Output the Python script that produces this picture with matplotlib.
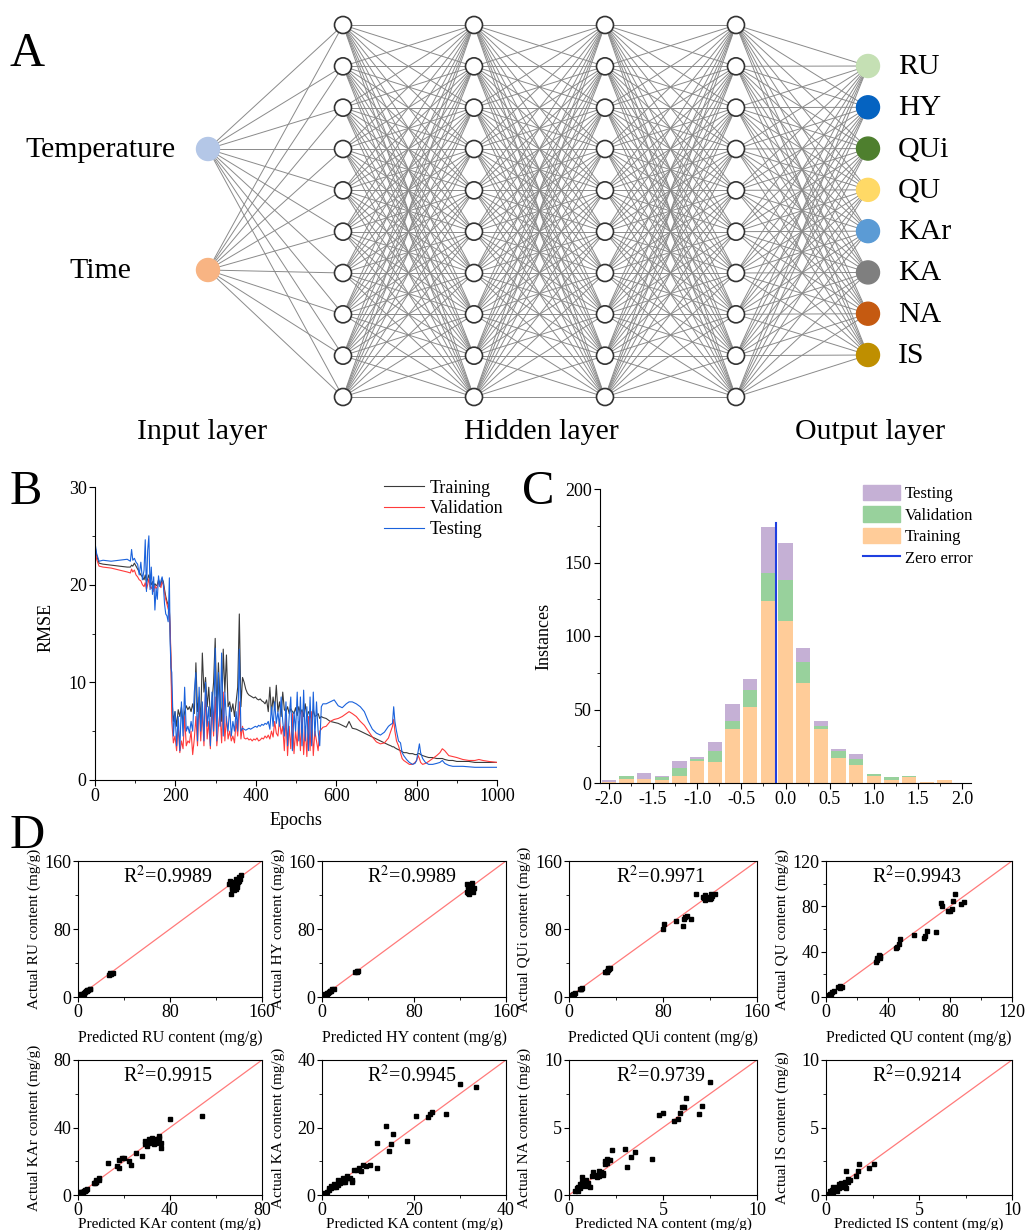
import numpy as np
import matplotlib
matplotlib.use('Agg')
import matplotlib.pyplot as plt
from matplotlib.patches import Circle, Patch
from matplotlib.lines import Line2D
from matplotlib.ticker import MultipleLocator

plt.rcParams['font.family'] = ['Liberation Serif', 'DejaVu Serif']
plt.rcParams['mathtext.fontset'] = 'stix'

# ------------------------------------------------------------------
# Panel A - network
input_labels = ['Temperature', 'Time']
input_colors = ['#b4c7e7', '#f8b483']
output_labels = ['RU', 'HY', 'QUi', 'QU', 'KAr', 'KA', 'NA', 'IS']
output_colors = ['#c5e0b4', '#0563c1', '#4e7f2e', '#ffd966', '#5b9bd5', '#7f7f7f', '#c55a11', '#bf8f00']
n_hidden_layers = 4
n_hidden_units = 10

# ------------------------------------------------------------------
# Panel B - RMSE vs epochs
epochs_a = [0, 4, 10, 20, 40, 60, 80, 88, 91, 94, 98, 102, 106, 110, 114, 118, 122, 125, 128, 131,
            134, 137, 140, 143, 146, 149, 152, 155, 158, 161, 164, 167, 170, 173, 176, 179, 182, 185, 187, 189]
epochs_b = list(range(191, 570, 4))
epochs_c = [575, 585, 595, 605, 615, 625, 632, 640, 650, 660, 670, 680, 690, 700, 710, 720, 730, 736, 740, 743,
            746, 750, 755, 760, 764, 768, 775, 782, 790, 796, 800, 804, 807, 810, 815, 822, 830, 840, 850, 858,
            864, 870, 880, 890, 900, 915, 930, 945, 955, 965, 980, 1000]
epochs = epochs_a + epochs_b + epochs_c

rmse_train = [
    24.0, 23.0, 22.2, 22.1, 22.0, 21.9, 21.8, 21.8, 22.0, 21.9, 22.2, 21.9, 21.6, 21.3, 21.0, 20.8, 20.5, 21.0, 20.2, 20.6,
    21.0, 20.4, 20.0, 20.3, 19.8, 20.1, 19.9, 20.0, 20.5, 20.2, 20.0, 20.6, 20.3, 19.5, 18.8, 18.3, 17.9, 17.5, 15.0, 12.0,
    8.5, 6.0, 7.0, 5.5, 7.2, 6.5, 7.5, 5.8, 7.0, 7.6,
    7.2, 7.5, 7.0, 7.8, 6.8, 12.0, 7.0, 8.5, 6.0, 13.0,
    9.0, 10.5, 7.5, 9.5, 6.5, 8.0, 10.0, 14.5, 7.0, 12.0,
    8.0, 6.0, 13.4, 9.0, 12.8, 7.5, 8.0, 7.0, 7.8, 6.5,
    8.0, 9.5, 17.0, 7.5, 10.5, 10.0, 9.3, 8.9, 8.7, 8.6,
    8.5, 8.4, 8.5, 8.3, 8.2, 8.3, 8.1, 8.0, 7.8, 8.2,
    7.0, 9.5, 6.8, 8.5, 7.2, 9.7, 7.0, 8.0, 6.5, 9.0,
    7.2, 7.0, 7.5, 6.8, 7.3, 7.0, 6.8, 7.4, 6.6, 7.5,
    6.8, 7.2, 6.5, 7.8, 6.4, 7.0, 6.7, 6.2, 7.2, 6.5,
    6.6, 6.8, 6.3, 6.5, 6.4,
    6.3, 6.0, 5.9, 5.8, 5.6, 5.4, 6.0, 5.3, 5.2, 5.0, 4.8, 4.6, 4.4, 4.2, 4.0, 3.8, 3.6, 3.5, 3.4, 3.4,
    3.3, 3.2, 3.1, 3.0, 2.9, 2.8, 2.8, 2.7, 2.7, 2.6, 2.6, 2.7, 2.7, 2.6, 2.5, 2.4, 2.3, 2.3, 2.2, 2.2,
    2.2, 2.1, 2.0, 2.0, 1.9, 1.9, 1.9, 1.8, 1.8, 1.8, 1.8, 1.8]

rmse_val = [
    23.8, 22.6, 21.9, 21.8, 21.7, 21.5, 21.3, 21.2, 21.6, 21.3, 21.5, 21.0, 20.8, 20.5, 20.4, 20.0, 19.8, 20.2, 19.5, 20.0,
    20.6, 19.8, 19.6, 19.9, 19.3, 19.9, 19.6, 19.8, 20.2, 20.0, 19.7, 20.3, 20.0, 19.2, 18.5, 18.0, 17.5, 17.3, 15.5, 12.5,
    6.0, 3.8, 4.5, 3.0, 5.5, 2.8, 4.0, 3.2, 6.5, 3.5,
    4.0, 3.8, 5.0, 2.6, 4.2, 6.5, 3.5, 8.0, 4.0, 7.0,
    3.5, 9.0, 4.2, 6.0, 3.2, 7.5, 4.5, 8.5, 3.5, 5.5,
    7.0, 3.8, 9.0, 4.0, 6.5, 4.2, 5.0, 4.0, 4.5, 3.8,
    6.0, 4.5, 8.0, 4.2, 5.5, 4.3, 4.2, 4.3, 4.1, 4.2,
    4.0, 4.2, 4.1, 4.3, 4.0, 4.1, 4.3, 4.2, 4.5, 4.3,
    4.6, 4.2, 5.0, 4.4, 6.0, 4.8, 4.5, 6.2, 4.7, 5.5,
    3.0, 6.5, 2.5, 5.5, 3.2, 6.8, 2.7, 5.0, 3.5, 6.0,
    3.0, 7.0, 2.6, 5.5, 2.4, 6.5, 3.0, 7.0, 2.5, 5.0,
    4.0, 3.0, 5.0, 5.2, 5.4,
    5.5, 6.0, 6.2, 6.3, 6.5, 6.8, 7.0, 6.8, 6.5, 6.0, 5.6, 5.0, 4.4, 3.9, 3.7, 3.8, 4.3, 5.0, 5.5, 6.2,
    5.0, 4.0, 3.5, 2.8, 2.2, 2.0, 1.8, 1.6, 1.6, 1.8, 2.0, 2.5, 2.2, 1.8, 1.6, 1.7, 1.9, 2.2, 2.5, 2.8,
    3.2, 3.0, 2.5, 2.4, 2.3, 2.1, 2.0, 2.0, 2.1, 2.0, 1.9, 1.8]

rmse_test = [
    24.3, 23.2, 22.4, 22.5, 22.4, 22.5, 22.6, 22.4, 23.6, 22.5, 22.7, 22.3, 22.1, 21.0, 22.3, 20.5, 21.5, 24.6, 19.3, 23.5,
    25.0, 19.5, 21.8, 19.0, 20.8, 17.4, 19.6, 18.5, 20.9, 19.8, 20.4, 20.8, 20.0, 18.0, 17.0, 16.8, 16.2, 20.7, 14.0, 11.5,
    11.0, 4.5, 7.0, 3.5, 6.5, 3.0, 8.0, 4.5, 9.5, 5.0,
    5.5, 4.8, 6.0, 5.0, 9.0, 11.0, 4.0, 9.5, 5.0, 8.0,
    4.0, 10.0, 5.5, 7.5, 3.5, 9.0, 5.0, 13.5, 4.0, 11.0,
    5.5, 13.0, 4.5, 9.0, 6.0, 5.0, 7.5, 4.5, 6.0, 5.0,
    7.0, 5.0, 13.4, 5.0, 5.3, 5.2, 5.1, 5.2, 5.3, 5.2,
    5.3, 5.4, 5.5, 5.4, 5.6, 5.5, 5.7, 5.6, 5.8, 5.7,
    6.0, 5.2, 7.5, 5.5, 8.0, 5.8, 7.0, 5.5, 8.5, 6.0,
    4.5, 8.0, 3.5, 6.5, 8.5, 3.0, 7.0, 5.0, 9.0, 4.0,
    8.5, 3.5, 9.2, 4.0, 7.5, 3.0, 8.5, 3.5, 9.0, 4.5,
    8.0, 5.0, 3.5, 7.5, 7.8,
    7.8, 8.0, 8.2, 7.6, 7.4, 7.8, 8.0, 8.0, 7.8, 7.5, 7.0, 6.0, 5.2, 4.8, 4.6, 4.9, 5.5, 5.7, 5.8, 7.5,
    6.0, 5.0, 4.0, 3.8, 2.8, 2.5, 2.1, 1.8, 1.6, 1.7, 2.0, 3.0, 3.7, 2.8, 2.2, 1.8, 1.6, 1.6, 1.7, 1.8,
    2.0, 1.7, 1.5, 1.4, 1.4, 1.4, 1.35, 1.3, 1.3, 1.3, 1.3, 1.3]

# ------------------------------------------------------------------
# Panel C - error histogram
bin_centers = [-2.0, -1.8, -1.6, -1.4, -1.2, -1.0, -0.8, -0.6, -0.4, -0.2,
               0.0, 0.2, 0.4, 0.6, 0.8, 1.0, 1.2, 1.4, 1.6, 1.8]
hist_train = [1, 3, 3, 2, 5, 15, 14, 37, 52, 124, 110, 68, 37, 17, 12, 5, 2, 4, 1, 2]
hist_val = [0, 2, 0, 2, 5, 1, 8, 5, 11, 19, 28, 14, 2, 5, 4, 1, 2, 1, 0, 0]
hist_test = [1, 0, 4, 1, 5, 2, 6, 12, 8, 31, 25, 10, 3, 1, 4, 0, 0, 0, 0, 0]
zero_error = -0.11

# ------------------------------------------------------------------
# Panel D - predicted vs actual
compounds = ['RU', 'HY', 'QUi', 'QU', 'KAr', 'KA', 'NA', 'IS']
r2_values = ['0.9989', '0.9989', '0.9971', '0.9943', '0.9915', '0.9945', '0.9739', '0.9214']
axis_max = [160, 160, 160, 120, 80, 40, 10, 10]
major_step = [80, 80, 80, 40, 40, 20, 5, 5]

pred_RU = [1, 2, 3, 4, 5, 6, 7, 8, 9, 10, 3, 5, 8, 10, 27, 28, 29, 30, 28,
           131, 132, 134, 133, 135, 136, 137, 138, 139, 140, 141, 142, 137, 135, 140, 136, 138, 134]
act_RU = [1, 2, 2.5, 4, 5, 6, 6.5, 7, 8.5, 9, 3.5, 4, 8, 10, 26, 27, 27.5, 28, 28,
          133, 136, 130, 121, 128, 131, 127, 133, 135, 141, 139, 143, 139, 135, 136, 126, 129, 127]

pred_HY = [1, 2, 3, 4, 5, 6, 7, 8, 9, 10, 4, 7, 29, 30, 30, 31,
           126, 127, 128, 129, 127, 128, 130, 131, 126, 129, 130, 128, 132, 127, 131]
act_HY = [1, 2, 3, 3.5, 5, 6, 7, 7.5, 9, 10, 4.5, 6.5, 30, 30.5, 29.5, 31,
          133, 131, 128, 126, 122, 121, 125, 127, 124, 130, 134, 124, 128, 127, 123]

pred_QUi = [1, 2, 3, 4, 5, 3, 9, 10, 11, 10, 31, 32, 33, 34, 33, 35, 32,
            80, 81, 91, 97, 98, 99, 100, 104, 108, 114, 115, 116, 119, 120, 121, 122, 124, 116, 121]
act_QUi = [1, 2, 2.5, 4, 5, 3.5, 9, 10, 11, 9.5, 30, 31, 32, 33, 34, 34, 29,
           80, 86, 89, 83, 92, 94, 95, 92, 121, 118, 116, 120, 118, 115, 117, 119, 121, 114, 121]

pred_QU = [1, 2, 3, 4, 5, 2.5, 8, 9, 9, 10, 32, 33, 34, 34, 35, 33, 35,
           45, 46, 47, 48, 57, 63, 64, 65, 71, 74, 75, 79, 80, 81, 82, 83, 87, 89]
act_QU = [1, 2, 2.5, 4, 5, 3, 9, 10, 8, 9, 31, 33, 35, 37, 36, 34, 34,
          43, 44, 47, 51, 55, 52, 54, 58, 57, 83, 80, 76, 76, 78, 85, 91, 82, 84]

pred_KAr = [0.5, 1, 1.5, 2, 2.5, 3, 3.5, 4, 1, 2, 3, 7, 8, 8, 9, 7.5, 9, 8,
            13, 17, 18, 18, 19, 20, 22, 23, 25, 28, 29, 29, 30, 31, 32, 32, 33, 34, 35, 35, 36, 36, 34, 31, 40, 54]
act_KAr = [0.5, 1, 1.5, 2, 2.5, 3, 3, 3.5, 2, 1.5, 2.5, 7, 8, 9, 10, 7, 9, 7.5,
           19, 17, 21, 16, 22, 22, 20, 18, 25, 23, 32, 30, 29, 31, 34, 32, 30, 33, 35, 34, 31, 28, 31, 33, 45, 47]

pred_KA = [0.5, 1, 1.5, 2, 2.5, 3, 3.5, 4, 4.5, 5, 5.5, 6, 6.5, 7, 7.5, 8, 8.5, 9, 9.5, 10.5,
           2, 3, 4, 5, 6.5, 1.5, 2.5, 3.5, 4.5, 5.5,
           12, 12, 14, 14.5, 15, 15.5, 18.5, 20.5, 23, 23.5, 24, 27, 30, 33.5]
act_KA = [0.5, 1, 1.5, 2, 2.5, 3, 3, 4, 4, 4.5, 5, 5, 4.5, 7.5, 7.5, 8, 7, 9, 8.5, 9,
          2.8, 2.5, 3.5, 4, 3.8, 2, 3.2, 4.5, 5, 5.5,
          15.5, 8, 20.5, 13, 15, 18, 16, 23.5, 23, 24, 24.5, 24, 33, 32]

pred_NA = [0.3, 0.4, 0.5, 0.6, 0.7, 0.7, 0.8, 0.9, 1.0, 1.1, 1.2, 1.3, 1.4, 1.5, 1.6, 1.7, 1.8, 1.9, 2.0, 2.1,
           2.2, 2.3, 0.5, 0.6, 0.9, 1.0, 1.6, 1.8, 1.9, 2.0,
           3.0, 3.1, 3.3, 3.5, 4.4, 4.8, 5.0, 5.6, 5.8, 5.9, 6.0, 6.1, 6.2, 6.9, 7.1, 7.5]
act_NA = [0.3, 0.5, 0.6, 0.8, 1.0, 1.3, 0.7, 0.8, 0.9, 0.6, 1.4, 1.7, 1.5, 1.3, 1.4, 1.7, 1.6, 2.5, 2.4, 2.6,
          2.6, 3.3, 0.3, 0.5, 1.1, 0.7, 1.8, 1.5, 2.3, 2.7,
          3.4, 2.1, 2.8, 3.2, 2.7, 5.9, 6.1, 5.5, 5.6, 6.1, 6.5, 6.5, 7.2, 6.0, 6.6, 8.4]

pred_IS = [0.1, 0.2, 0.3, 0.3, 0.4, 0.5, 0.5, 0.6, 0.7, 0.7, 0.8, 0.9, 1.0, 1.0, 1.1, 1.1, 1.2, 1.2, 1.3,
           1.6, 1.7, 1.8, 2.3, 2.6, 0.2, 0.4, 0.6, 0.8, 0.9, 0.4]
act_IS = [0.1, 0.3, 0.2, 0.4, 0.3, 0.5, 0.4, 0.6, 0.5, 0.8, 0.7, 0.8, 0.9, 1.0, 0.5, 1.8, 1.2, 1.0, 1.1,
          1.4, 1.8, 2.3, 2.0, 2.3, 0.1, 0.6, 0.3, 0.9, 0.6, 0.2]

pred_data = [pred_RU, pred_HY, pred_QUi, pred_QU, pred_KAr, pred_KA, pred_NA, pred_IS]
act_data = [act_RU, act_HY, act_QUi, act_QU, act_KAr, act_KA, act_NA, act_IS]

# ------------------------------------------------------------------
W, H = 1028, 1230
fig = plt.figure(figsize=(W / 100, H / 100), dpi=100)


def px_axes(left, top, right, bottom):
    # axes placed by pixel box (origin top-left)
    return fig.add_axes([left / W, 1 - bottom / H, (right - left) / W, (bottom - top) / H])


# ---------------- A ----------------
axA = px_axes(0, 0, W, 450)
axA.set_xlim(0, W)
axA.set_ylim(450, 0)
axA.axis('off')

in_x, in_y = 208, [149, 270]
hid_x = [343, 474, 605, 736][:n_hidden_layers]
hid_y = np.linspace(25, 397, n_hidden_units)
out_x, out_y = 868, np.linspace(66, 355, len(output_labels))

layers = [(in_x, in_y)] + [(x, hid_y) for x in hid_x] + [(out_x, out_y)]
for (x0, ys0), (x1, ys1) in zip(layers[:-1], layers[1:]):
    for y0 in ys0:
        for y1 in ys1:
            axA.plot([x0, x1], [y0, y1], color='#8a8a8a', lw=0.7, zorder=1)

for y, c, lab in zip(in_y, input_colors, input_labels):
    axA.add_patch(Circle((in_x, y), 11.5, color=c, zorder=3))
    axA.text(100, y + 1, lab, fontsize=21.5, ha='center', va='center')
for x in hid_x:
    for y in hid_y:
        axA.add_patch(Circle((x, y), 8.5, facecolor='white', edgecolor='#333333', lw=1.2, zorder=3))
for y, c, lab in zip(out_y, output_colors, output_labels):
    axA.add_patch(Circle((out_x, y), 11.5, color=c, zorder=3))
    axA.text(898, y + 1, lab, fontsize=21.5, ha='left', va='center')

axA.text(202, 432, 'Input layer', fontsize=21.5, ha='center', va='center')
axA.text(541, 432, 'Hidden layer', fontsize=21.5, ha='center', va='center')
axA.text(870, 432, 'Output layer', fontsize=21.5, ha='center', va='center')

fig.text(10 / W, 1 - 66 / H, 'A', fontsize=35, ha='left', va='baseline')
fig.text(10 / W, 1 - 504 / H, 'B', fontsize=35, ha='left', va='baseline')
fig.text(522 / W, 1 - 504 / H, 'C', fontsize=35, ha='left', va='baseline')
fig.text(10 / W, 1 - 848 / H, 'D', fontsize=35, ha='left', va='baseline')

# ---------------- B ----------------
axB = px_axes(95, 487, 497, 780)
axB.plot(epochs, rmse_train, color='#3a3a3a', lw=0.8, label='Training')
axB.plot(epochs, rmse_val, color='#ff3b3b', lw=0.8, label='Validation')
axB.plot(epochs, rmse_test, color='#1a62dc', lw=0.8, label='Testing')
axB.set_xlim(0, 1000)
axB.set_ylim(0, 30)
axB.xaxis.set_major_locator(MultipleLocator(200))
axB.xaxis.set_minor_locator(MultipleLocator(100))
axB.yaxis.set_major_locator(MultipleLocator(10))
axB.yaxis.set_minor_locator(MultipleLocator(5))
axB.spines[['top', 'right']].set_visible(False)
axB.tick_params(which='major', direction='out', length=4, labelsize=13, pad=2)
axB.tick_params(which='minor', direction='out', length=2.5)
axB.set_ylabel('RMSE', fontsize=13)
axB.set_xlabel('Epochs', fontsize=13)
axB.yaxis.set_label_coords(-0.1, 0.52)
axB.xaxis.set_label_coords(0.5, -0.11)
axB.legend(loc='upper left', bbox_to_anchor=(0.72, 1.025), frameon=False, fontsize=13,
           handlelength=2.2, handletextpad=0.3, labelspacing=0.2, borderpad=0, borderaxespad=0)

# ---------------- C ----------------
axC = px_axes(600, 489, 971, 783)
bw = 0.165
axC.bar(bin_centers, hist_train, width=bw, color='#ffcc99')
bottom_val = [a for a in hist_train]
axC.bar(bin_centers, hist_val, width=bw, bottom=bottom_val, color='#98d19c')
bottom_test = [a + b for a, b in zip(hist_train, hist_val)]
axC.bar(bin_centers, hist_test, width=bw, bottom=bottom_test, color='#c5b0d5')
axC.plot([zero_error, zero_error], [0, 177], color='#1f3fe0', lw=1.5)
axC.set_xlim(-2.1, 2.1)
axC.set_ylim(0, 200)
axC.xaxis.set_major_locator(MultipleLocator(0.5))
axC.xaxis.set_minor_locator(MultipleLocator(0.25))
axC.yaxis.set_major_locator(MultipleLocator(50))
axC.yaxis.set_minor_locator(MultipleLocator(25))
axC.xaxis.set_major_formatter(plt.FuncFormatter(lambda v, p: f'{v:.1f}'))
axC.spines[['top', 'right']].set_visible(False)
axC.tick_params(which='major', direction='out', length=4, labelsize=13, pad=2)
axC.tick_params(which='minor', direction='out', length=2.5)
axC.set_ylabel('Instances', fontsize=13)
axC.yaxis.set_label_coords(-0.127, 0.5)
handles = [Patch(color='#c5b0d5', label='Testing'),
           Patch(color='#98d19c', label='Validation'),
           Patch(color='#ffcc99', label='Training'),
           Line2D([0], [0], color='#1f3fe0', lw=1.5, label='Zero error')]
axC.legend(handles=handles, loc='upper left', bbox_to_anchor=(0.71, 1.015), frameon=False, fontsize=12,
           handlelength=2.2, handleheight=1.05, handletextpad=0.3, labelspacing=0.25,
           borderpad=0, borderaxespad=0)

# ---------------- D ----------------
col_lr = [(78, 262), (322, 506), (569, 757), (826, 1012)]
row_tb = [(861, 997), (1060, 1195)]
xlab_y = [-0.24, -0.165]

for i, name in enumerate(compounds):
    r, c = divmod(i, 4)
    left, right = col_lr[c]
    top, bottom = row_tb[r]
    ax = px_axes(left, top, right, bottom)
    m = axis_max[i]
    ax.plot([0, m], [0, m], color='#ff7a7a', lw=0.9, zorder=1)
    ax.plot(pred_data[i], act_data[i], 's', color='black', ms=3.2, zorder=2)
    ax.set_xlim(0, m)
    ax.set_ylim(0, m)
    ax.xaxis.set_major_locator(MultipleLocator(major_step[i]))
    ax.yaxis.set_major_locator(MultipleLocator(major_step[i]))
    ax.xaxis.set_minor_locator(MultipleLocator(major_step[i] / 2))
    ax.yaxis.set_minor_locator(MultipleLocator(major_step[i] / 2))
    ax.tick_params(which='major', direction='out', length=3.5, labelsize=13, pad=1.5)
    ax.tick_params(which='minor', direction='out', length=2)
    for s in ax.spines.values():
        s.set_linewidth(0.8)
    ax.text(0.49, 0.88, 'R$^2$=' + r2_values[i], transform=ax.transAxes, fontsize=14.5,
            ha='center', va='center')
    ax.set_ylabel(f'Actual {name} content (mg/g)', fontsize=11)
    ax.set_xlabel(f'Predicted {name} content (mg/g)', fontsize=11.5 if r == 0 else 11)
    ax.yaxis.set_label_coords(-0.2, 0.5)
    ax.xaxis.set_label_coords(0.5, xlab_y[r])

fig.savefig('out.png', dpi=100)
